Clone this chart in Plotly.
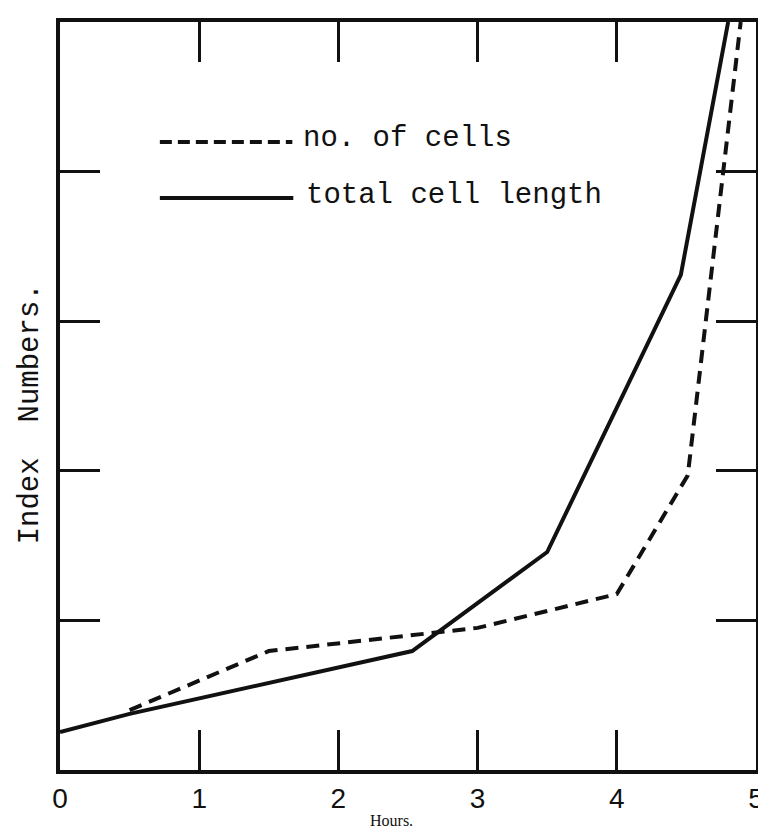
import plotly.graph_objects as go

# Data (hours vs index numbers)
cells_hours = [0.5, 1.5, 3.0, 4.0, 4.51, 4.89]
cells_index = [0.40, 0.795, 0.95, 1.176, 1.97, 5.0]

length_hours = [0.0, 0.5, 2.53, 3.5, 4.46, 4.8]
length_index = [0.254, 0.375, 0.795, 1.457, 3.31, 5.0]

x_tick_vals = [0, 1, 2, 3, 4, 5]
x_tick_text = ["0", "1", "2", "3", "4", "5"]
y_tick_vals = [1, 2, 3, 4]

legend_labels = ["no. of cells", "total cell length"]

W, H = 766, 832
ML, MR, MT, MB = 52, 10, 14, 70
pw, ph = W - ML - MR, H - MT - MB


def px_x(px):
    return (px - ML) / pw


def px_y(py):
    return (H - MB - py) / ph


INK = "#111111"
MONO = "Liberation Mono, Courier New, monospace"

fig = go.Figure()
fig.add_trace(go.Scatter(x=cells_hours, y=cells_index, mode="lines",
                         line=dict(color=INK, width=4, dash="13px,8px"),
                         showlegend=False))
fig.add_trace(go.Scatter(x=length_hours, y=length_index, mode="lines",
                         line=dict(color=INK, width=4),
                         showlegend=False))

axis_common = dict(showgrid=False, zeroline=False, showline=True, linecolor=INK,
                   linewidth=4, mirror="ticks", ticks="inside", ticklen=40,
                   tickwidth=3, tickcolor=INK)

fig.update_xaxes(range=[0, 5], tickmode="array", tickvals=x_tick_vals,
                 ticktext=x_tick_text,
                 tickfont=dict(family="Liberation Sans, Arial", size=28, color=INK),
                 **axis_common)
fig.update_yaxes(range=[0, 5], tickmode="array", tickvals=y_tick_vals,
                 showticklabels=False, **axis_common)

# legend drawn as shapes + text
shapes = [
    dict(type="line", xref="paper", yref="paper", x0=px_x(153), x1=px_x(287),
         y0=px_y(134), y1=px_y(134), line=dict(color=INK, width=4, dash="12px,6px")),
    dict(type="line", xref="paper", yref="paper", x0=px_x(153), x1=px_x(288),
         y0=px_y(190), y1=px_y(190), line=dict(color=INK, width=4)),
]
annotations = [
    dict(text=legend_labels[0], xref="paper", yref="paper", x=px_x(296), y=px_y(131),
         xanchor="left", yanchor="middle", showarrow=False,
         font=dict(family=MONO, size=29, color=INK)),
    dict(text=legend_labels[1], xref="paper", yref="paper", x=px_x(299), y=px_y(187),
         xanchor="left", yanchor="middle", showarrow=False,
         font=dict(family=MONO, size=29, color=INK)),
    dict(text="Index  Numbers.", xref="paper", yref="paper", x=px_x(22), y=px_y(406),
         xanchor="center", yanchor="middle", textangle=-90, showarrow=False,
         font=dict(family=MONO, size=29, color=INK)),
    dict(text="Hours.", xref="paper", yref="paper", x=px_x(387), y=px_y(812),
         xanchor="center", yanchor="middle", showarrow=False,
         font=dict(family="Liberation Serif, Times New Roman, serif", size=16, color=INK)),
]

fig.update_layout(width=W, height=H, margin=dict(l=ML, r=MR, t=MT, b=MB),
                  paper_bgcolor="white", plot_bgcolor="white",
                  shapes=shapes, annotations=annotations, showlegend=False)

fig.write_html("out.html")
